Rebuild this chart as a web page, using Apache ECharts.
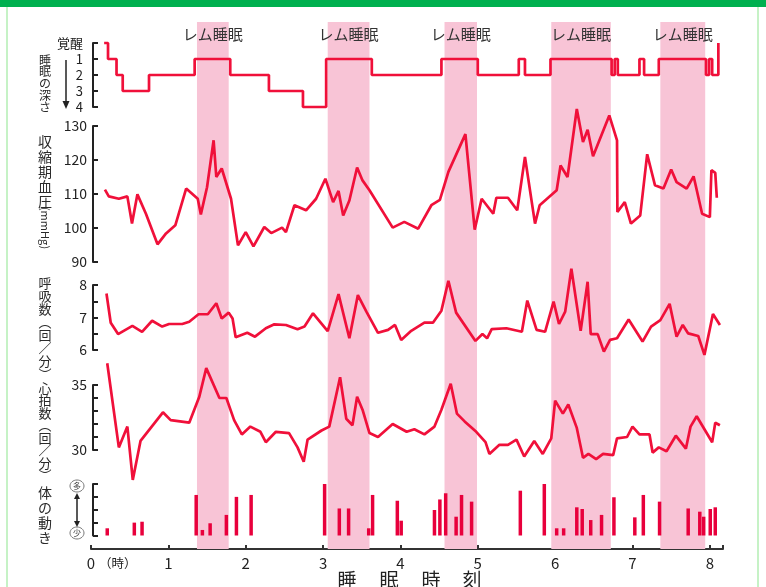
<!DOCTYPE html>
<html><head><meta charset="utf-8">
<script src="https://cdn.jsdelivr.net/npm/echarts@6/dist/echarts.min.js"></script>
<style>html,body{margin:0;padding:0;background:#fff}#c{width:766px;height:587px}</style>
</head><body><div id="c"></div>
<script>
// ---- data (time in hours, value) ----
const remBands = [[1.37,1.78],[3.06,3.60],[4.57,4.99],[5.95,6.72],[7.36,7.94]];
const remLabel = 'レム睡眠';
const hourLabels = ['0','1','2','3','4','5','6','7','8'];
const stageLabels = ['覚醒','1','2','3','4'];
const sleepStage = [[0.17,0],[0.22,1],[0.33,2],[0.41,3],[0.75,2],[1.34,1],[1.80,2],[2.30,3],[2.74,4],[3.04,1],[3.63,2],[4.53,1],[5.00,2],[5.53,1],[5.61,2],[5.94,1],[6.73,2],[6.77,1],[6.81,2],[7.09,1],[7.15,2],[7.34,1],[7.95,2],[7.99,1],[8.03,2],[8.11,0]];
const systolicBP = [[0.18,111.3],[0.23,109.3],[0.36,108.6],[0.47,109.3],[0.53,101.3],[0.60,109.9],[0.71,104.2],[0.86,95.2],[0.97,98.4],[1.09,100.8],[1.23,111.6],[1.38,108.6],[1.42,104],[1.50,112],[1.585,125.8],[1.62,115],[1.69,117.5],[1.81,108.6],[1.90,94.9],[2.00,98.8],[2.10,94.6],[2.24,100.3],[2.33,98.5],[2.47,100.1],[2.52,98.8],[2.63,106.7],[2.78,105.2],[2.91,108.6],[3.03,114.5],[3.13,107.6],[3.20,110.9],[3.26,103.7],[3.34,108.1],[3.44,117.8],[3.51,114],[3.60,111.1],[3.90,100.1],[4.05,101.8],[4.23,99.8],[4.40,106.7],[4.51,108.3],[4.62,116.5],[4.84,127.6],[4.96,99.5],[5.05,108.6],[5.20,104.2],[5.24,108.9],[5.39,108.9],[5.51,105.2],[5.61,120.9],[5.74,101.3],[5.80,106.7],[6.02,111.1],[6.07,118.4],[6.16,115],[6.28,135],[6.36,125.3],[6.42,128.9],[6.49,121.1],[6.70,133.1],[6.80,125.8],[6.805,104.7],[6.90,107.6],[6.98,101.3],[7.10,103.7],[7.19,121.7],[7.29,112.6],[7.40,111.6],[7.50,117.2],[7.57,113.5],[7.70,111.6],[7.79,115.2],[7.90,104.2],[8.00,103.2],[8.02,117],[8.07,116.2],[8.09,108.9]];
const respRate = [[0.20,7.74],[0.255,6.84],[0.35,6.49],[0.535,6.74],[0.66,6.56],[0.79,6.90],[0.92,6.72],[1.01,6.80],[1.18,6.80],[1.27,6.87],[1.39,7.10],[1.51,7.10],[1.62,7.44],[1.69,6.97],[1.78,7.15],[1.83,6.97],[1.87,6.39],[2.02,6.53],[2.12,6.41],[2.26,6.67],[2.37,6.79],[2.52,6.77],[2.67,6.64],[2.76,6.72],[2.87,7.13],[3.06,6.58],[3.20,7.72],[3.34,6.36],[3.45,7.69],[3.56,7.18],[3.71,6.53],[3.84,6.62],[3.93,6.77],[4.01,6.31],[4.14,6.59],[4.31,6.84],[4.42,6.84],[4.53,7.21],[4.62,8.13],[4.72,7.15],[4.97,6.28],[5.06,6.49],[5.12,6.36],[5.18,6.64],[5.37,6.67],[5.57,6.56],[5.64,7.52],[5.76,6.62],[5.87,6.56],[5.98,7.49],[6.05,6.80],[6.13,7.18],[6.21,8.5],[6.33,6.59],[6.42,8.10],[6.46,6.49],[6.55,6.49],[6.63,5.95],[6.71,6.31],[6.80,6.36],[6.95,6.94],[7.13,6.26],[7.24,6.72],[7.36,6.92],[7.48,7.42],[7.57,6.41],[7.65,6.77],[7.72,6.51],[7.85,6.43],[7.93,5.85],[8.04,7.11],[8.13,6.77]];
const heartRate = [[0.21,36.67],[0.36,30.2],[0.47,31.8],[0.54,27.7],[0.64,30.7],[0.93,32.9],[1.03,32.3],[1.27,32.1],[1.40,34.1],[1.49,36.3],[1.66,34.0],[1.75,34.0],[1.85,32.3],[1.95,31.2],[2.06,31.8],[2.19,31.4],[2.26,30.6],[2.39,31.4],[2.56,31.3],[2.67,30.2],[2.75,29.1],[2.80,30.8],[2.98,31.5],[3.08,31.8],[3.22,35.6],[3.30,32.4],[3.38,31.9],[3.44,34.1],[3.51,33.1],[3.60,31.3],[3.71,31.0],[3.90,32.0],[4.08,31.4],[4.18,31.6],[4.31,31.2],[4.44,31.8],[4.53,33.1],[4.65,35.1],[4.73,32.8],[4.83,32.2],[4.98,31.4],[5.10,30.6],[5.15,29.7],[5.28,30.4],[5.39,30.4],[5.50,30.8],[5.60,29.5],[5.73,30.7],[5.84,29.7],[5.95,30.9],[6.00,33.8],[6.10,32.8],[6.17,33.5],[6.28,31.7],[6.36,29.4],[6.43,29.7],[6.53,29.3],[6.62,29.7],[6.75,29.6],[6.80,30.9],[6.93,31.0],[7.00,31.8],[7.09,31.2],[7.22,31.2],[7.26,29.8],[7.34,30.2],[7.44,29.9],[7.56,31.1],[7.69,30.1],[7.75,31.8],[7.83,32.6],[8.03,30.6],[8.07,32.1],[8.13,31.9]];
const bodyMove = [[0.21,0.56],[0.56,1.0],[0.66,1.07],[1.36,3.15],[1.44,0.43],[1.54,0.95],[1.75,1.6],[1.88,3.0],[2.07,3.15],[3.02,4.26],[3.21,2.1],[3.33,2.1],[3.59,0.56],[3.64,3.15],[3.96,2.7],[4.01,1.15],[4.44,1.98],[4.51,2.8],[4.585,3.28],[4.72,1.46],[4.79,3.15],[4.92,2.63],[5.55,3.48],[5.86,4.26],[6.02,0.56],[6.11,0.56],[6.28,2.19],[6.35,2.06],[6.46,1.2],[6.60,1.6],[6.76,2.97],[7.03,1.41],[7.14,3.15],[7.35,2.63],[7.72,2.1],[7.87,1.85],[7.92,1.46],[8.005,2.06],[8.07,2.19]];

// ---- chart ----
const FONT = '"Noto Sans CJK JP", "Noto Sans", sans-serif';
const RED = '#f0103a';
const DARK = '#222';
const XMAX = 8.17;

const grids = [
  {left:91, width:632, top:22, height:527},
  {left:91, width:632, top:43, height:64},
  {left:91, width:632, top:126, height:136},
  {left:91, width:632, top:285, height:65},
  {left:91, width:632, top:385, height:65},
  {left:91, width:632, top:484, height:51.5}
];

const xAxes = grids.map((g, i) => ({
  type:'value', gridIndex:i, min:0, max:XMAX, interval:1, show: i === 0,
  axisLine:{show:true, lineStyle:{color:'#333', width:2}},
  axisTick:{show:true, inside:true, length:4, lineStyle:{color:'#333', width:2}},
  axisLabel:{show:true, margin:7, fontSize:15, color:DARK, fontFamily:FONT,
    formatter: v => hourLabels[Math.round(v)] !== undefined && Math.abs(v-Math.round(v))<1e-6 ? hourLabels[Math.round(v)] : ''},
  splitLine:{show:false}
}));

function bracketAxis(idx, min, max, interval, fmt, margin, fs, inverse){
  return {
    type:'value', gridIndex:idx, min, max, interval, inverse: !!inverse, offset:-2,
    axisLine:{show:true, lineStyle:{color:DARK, width:2}},
    axisTick:{show:true, inside:true, length:5, lineStyle:{color:DARK, width:2}},
    axisLabel:{show: !!fmt, formatter: fmt || (()=>''), margin, fontSize:fs, color:DARK, fontFamily:FONT},
    splitLine:{show:false}
  };
}

const yAxes = [
  {type:'value', gridIndex:0, min:0, max:1, show:false},
  bracketAxis(1, 0, 4, 1, v => stageLabels[v], 10, 13, true),
  bracketAxis(2, 90, 130, 10, v => String(v), 6, 14),
  bracketAxis(3, 6, 8, 0.5, v => (v % 1 === 0 ? String(v) : ''), 6, 14),
  bracketAxis(4, 30, 35, 1, v => (v === 30 || v === 35 ? String(v) : ''), 6, 14),
  bracketAxis(5, 0, 4, 1, null, 6, 14)
];

function lineSeries(idx, data, extra){
  return Object.assign({
    type:'line', xAxisIndex:idx, yAxisIndex:idx, data, showSymbol:false, symbol:'none',
    clip:false, z:3, silent:true,
    lineStyle:{color:RED, width:2.7}
  }, extra || {});
}

const series = [
  {type:'line', xAxisIndex:0, yAxisIndex:0, data:[[0,-1],[1,-1]], symbol:'none', silent:true, z:1,
   lineStyle:{opacity:0},
   markArea:{silent:true, itemStyle:{color:'#f8c4d6'},
     label:{show:true, position:'insideTop', distance:5, color:'#333', fontSize:15, fontFamily:FONT},
     data: remBands.map(b => [{xAxis:b[0], name:remLabel}, {xAxis:b[1]}])}},
  lineSeries(1, sleepStage, {step:'end'}),
  lineSeries(2, systolicBP),
  lineSeries(3, respRate),
  lineSeries(4, heartRate),
  {type:'bar', xAxisIndex:5, yAxisIndex:5, data: bodyMove, barWidth:3.5, z:3, silent:true,
   itemStyle:{color:'#e8003c'}}
];

function vtext(chars, x, yc, step, size){
  return {type:'text', x, y: yc - step/2, silent:true, z:10,
    style:{text: chars.join('\n'), fontSize:size, fontFamily:FONT, fill:'#2a2a2a',
      align:'center', verticalAlign:'top', lineHeight:step}};
}

const graphic = [
  {type:'rect', shape:{x:0,y:0,width:766,height:7}, style:{fill:'#00b04f'}, silent:true},
  {type:'line', shape:{x1:7,y1:7,x2:7,y2:587}, style:{stroke:'#c6f2c6', lineWidth:2}, silent:true},
  {type:'line', shape:{x1:758,y1:7,x2:758,y2:587}, style:{stroke:'#c6f2c6', lineWidth:2}, silent:true},
  // axis titles
  vtext(['睡','眠','の','深','さ'], 45, 60, 11.8, 12),
  {type:'line', shape:{x1:66,y1:60,x2:66,y2:103}, style:{stroke:DARK, lineWidth:1.5}, silent:true},
  {type:'polygon', shape:{points:[[62.5,101],[69.5,101],[66,109]]}, style:{fill:DARK}, silent:true},
  vtext(['収','縮','期','血','圧'], 45, 142, 15, 14),
  {type:'text', x:45, y:228, rotation:-Math.PI/2, silent:true,
    style:{text:'(mmHg)', fontSize:11, fontFamily:FONT, fill:'#2a2a2a', align:'center', verticalAlign:'middle'}},
  vtext(['呼','吸','数','︵','回','／','分','︶'], 45, 283, 13, 13),
  vtext(['心','拍','数','︵','回','／','分','︶'], 45, 388, 12.5, 13),
  vtext(['体','の','動','き'], 45, 493, 15, 14),
  // more / less markers
  {type:'ellipse', shape:{cx:77, cy:486, rx:7, ry:6}, style:{fill:'#fff', stroke:'#777', lineWidth:1}, silent:true},
  {type:'text', x:77, y:486, silent:true, style:{text:'多', fontSize:8, fontFamily:FONT, fill:'#444', align:'center', verticalAlign:'middle'}},
  {type:'ellipse', shape:{cx:77, cy:533, rx:7, ry:6}, style:{fill:'#fff', stroke:'#777', lineWidth:1}, silent:true},
  {type:'text', x:77, y:533, silent:true, style:{text:'少', fontSize:8, fontFamily:FONT, fill:'#444', align:'center', verticalAlign:'middle'}},
  {type:'line', shape:{x1:77,y1:497,x2:77,y2:523}, style:{stroke:DARK, lineWidth:1.5}, silent:true},
  {type:'polygon', shape:{points:[[74,499],[80,499],[77,493]]}, style:{fill:DARK}, silent:true},
  {type:'polygon', shape:{points:[[74,521],[80,521],[77,527]]}, style:{fill:DARK}, silent:true},
  // x-axis unit and title
  {type:'text', x:99, y:563, silent:true, style:{text:'（時）', fontSize:12.5, fontFamily:FONT, fill:DARK, align:'left', verticalAlign:'middle'}},
  {type:'text', x:347, y:580, silent:true, style:{text:'睡', fontSize:19, fontFamily:FONT, fill:DARK, align:'center', verticalAlign:'middle'}},
  {type:'text', x:389, y:580, silent:true, style:{text:'眠', fontSize:19, fontFamily:FONT, fill:DARK, align:'center', verticalAlign:'middle'}},
  {type:'text', x:431, y:580, silent:true, style:{text:'時', fontSize:19, fontFamily:FONT, fill:DARK, align:'center', verticalAlign:'middle'}},
  {type:'text', x:472, y:580, silent:true, style:{text:'刻', fontSize:19, fontFamily:FONT, fill:DARK, align:'center', verticalAlign:'middle'}}
];

const chart = echarts.init(document.getElementById('c'), null, {renderer:'canvas'});
chart.setOption({
  animation:false,
  backgroundColor:'#fff',
  grid: grids,
  xAxis: xAxes,
  yAxis: yAxes,
  series,
  graphic
});
</script>
</body></html>
